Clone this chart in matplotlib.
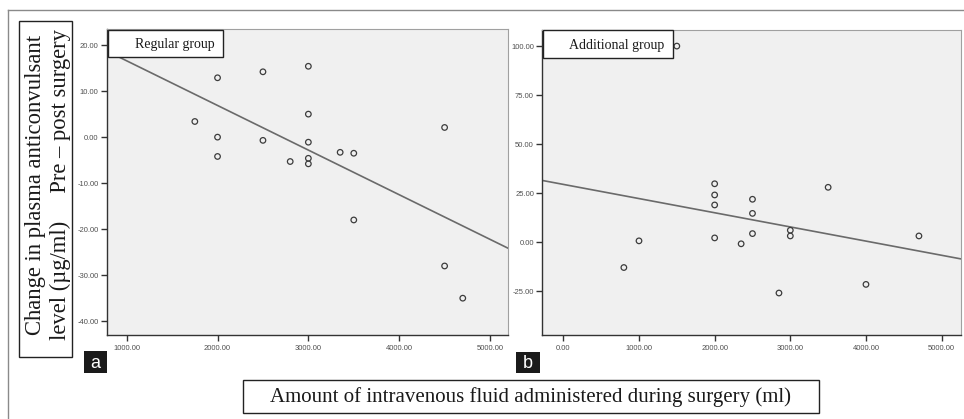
import numpy as np
import matplotlib
matplotlib.use("Agg")
import matplotlib.pyplot as plt
from matplotlib.patches import Rectangle

# ---------------- data ----------------
regular_fluid = [1750, 2000, 2000, 2000, 2500, 2500, 2800, 3000, 3000, 3000,
                 3000, 3000, 3350, 3500, 3500, 4500, 4500, 4700]
regular_change = [3.4, 12.9, 0.0, -4.2, 14.2, -0.7, -5.3, 15.4, 5.0, -1.1,
                  -4.6, -5.8, -3.3, -3.5, -18.0, 2.1, -28.0, -35.0]

additional_fluid = [800, 1000, 1500, 2000, 2000, 2000, 2000, 2350, 2500,
                    2500, 2500, 2850, 3000, 3000, 3500, 4000, 4700]
additional_change = [-12.9, 0.7, 100.0, 29.8, 24.1, 19.0, 2.2, -0.8, 21.9,
                     14.7, 4.4, -25.9, 6.1, 3.2, 28.0, -21.5, 3.2]

left_yticks = [20, 10, 0, -10, -20, -30, -40]
left_xticks = [1000, 2000, 3000, 4000, 5000]
right_yticks = [100, 75, 50, 25, 0, -25]
right_xticks = [0, 1000, 2000, 3000, 4000, 5000]

panel_titles = ["Regular group", "Additional group"]
panel_letters = ["a", "b"]
xlabel = "Amount of intravenous fluid administered during surgery (ml)"
ylabel_lines = ["Change in plasma anticonvulsant",
                "level (\u00b5g/ml)     Pre \u2013 post surgery"]

# ---------------- figure ----------------
W, H = 964, 419
fig = plt.figure(figsize=(W / 100, H / 100), dpi=100)
fig.patch.set_facecolor("white")


def fx(px):
    return px / W


def fy(py):
    return 1 - py / H


def fig_rect(x0, y0, x1, y1, **kw):
    r = Rectangle((fx(x0), fy(y1)), fx(x1) - fx(x0), fy(y0) - fy(y1),
                  transform=fig.transFigure, **kw)
    fig.add_artist(r)
    return r


# outer frame (top + left visible)
fig.add_artist(plt.Line2D([fx(7.5), fx(7.5)], [fy(10), fy(419)], transform=fig.transFigure,
                          color="#8a8a8a", lw=1.0))
fig.add_artist(plt.Line2D([fx(7.5), fx(964)], [fy(10), fy(10)], transform=fig.transFigure,
                          color="#8a8a8a", lw=1.0))

axes_px = [(107, 29, 508, 335), (542.3, 30, 961, 335)]
xlims = [(783, 5198), (-278, 5256)]
ylims = [(-43, 23.5), (-47.3, 108.2)]
xs_all = [regular_fluid, additional_fluid]
ys_all = [regular_change, additional_change]
xticks_all = [left_xticks, right_xticks]
yticks_all = [left_yticks, right_yticks]
title_boxes = [(108, 30, 223, 57), (543, 30, 673, 58)]
title_text_x = [175, 617]
letter_boxes = [(84, 351, 107, 373), (516, 352, 540, 373)]

for i in range(2):
    x0, y0, x1, y1 = axes_px[i]
    ax = fig.add_axes([fx(x0), fy(y1), fx(x1) - fx(x0), fy(y0) - fy(y1)])
    ax.set_facecolor("#f0f0f0")
    xs = np.array(xs_all[i], dtype=float)
    ys = np.array(ys_all[i], dtype=float)
    ax.scatter(xs, ys, s=16, facecolors="none", edgecolors="#3c3c3c", linewidths=0.9, zorder=3)
    slope, intercept = np.polyfit(xs, ys, 1)
    lx = np.array(xlims[i], dtype=float)
    ax.plot(lx, intercept + slope * lx, color="#6a6a6a", lw=1.2, zorder=2)
    ax.set_xlim(*xlims[i])
    ax.set_ylim(*ylims[i])
    ax.set_xticks(xticks_all[i])
    ax.set_xticklabels([f"{v:.2f}" for v in xticks_all[i]])
    ax.set_yticks(yticks_all[i])
    ax.set_yticklabels([f"{v:.2f}" for v in yticks_all[i]])
    for lab in ax.get_xticklabels() + ax.get_yticklabels():
        lab.set_fontfamily("Liberation Sans")
        lab.set_fontsize(5.5)
        lab.set_color("#505050")
    ax.tick_params(axis="both", direction="out", length=4, width=1.0, color="#333333", pad=2)
    ax.tick_params(axis="x", pad=3)
    for side in ["left", "bottom"]:
        ax.spines[side].set_color("#333333")
        ax.spines[side].set_linewidth(1.0)
    for side in ["top", "right"]:
        ax.spines[side].set_color("#a0a0a0")
        ax.spines[side].set_linewidth(0.8)

    # title box
    bx0, by0, bx1, by1 = title_boxes[i]
    fig_rect(bx0, by0, bx1, by1, facecolor="white", edgecolor="#222222", lw=1.0, zorder=10)
    fig.text(fx(title_text_x[i]), fy((by0 + by1) / 2 + 1), panel_titles[i],
             ha="center", va="center", fontsize=10, family="Liberation Serif",
             color="#1a1a1a", zorder=11)

    # letter box
    lx0, ly0, lx1, ly1 = letter_boxes[i]
    fig_rect(lx0, ly0, lx1, ly1, facecolor="#1a1a1a", edgecolor="none", zorder=10)
    fig.text(fx((lx0 + lx1) / 2), fy((ly0 + ly1) / 2 + 1), panel_letters[i],
             ha="center", va="center", fontsize=13, family="Liberation Sans",
             color="white", zorder=11)

# y label box
fig_rect(19, 21, 72, 357, facecolor="white", edgecolor="#222222", lw=1.0, zorder=10)
fig.text(fx(36), fy(185), ylabel_lines[0], rotation=90, ha="center", va="center",
         fontsize=16.3, family="Liberation Serif", color="#1a1a1a", zorder=11)
fig.text(fx(60), fy(185), ylabel_lines[1], rotation=90, ha="center", va="center",
         fontsize=16.3, family="Liberation Serif", color="#1a1a1a", zorder=11)

# x label box
fig_rect(243, 380, 819, 413, facecolor="white", edgecolor="#222222", lw=1.0, zorder=10)
fig.text(fx(531), fy(397), xlabel, ha="center", va="center",
         fontsize=15, family="Liberation Serif", color="#1a1a1a", zorder=11)

fig.savefig("out.png", dpi=100, facecolor="white")
